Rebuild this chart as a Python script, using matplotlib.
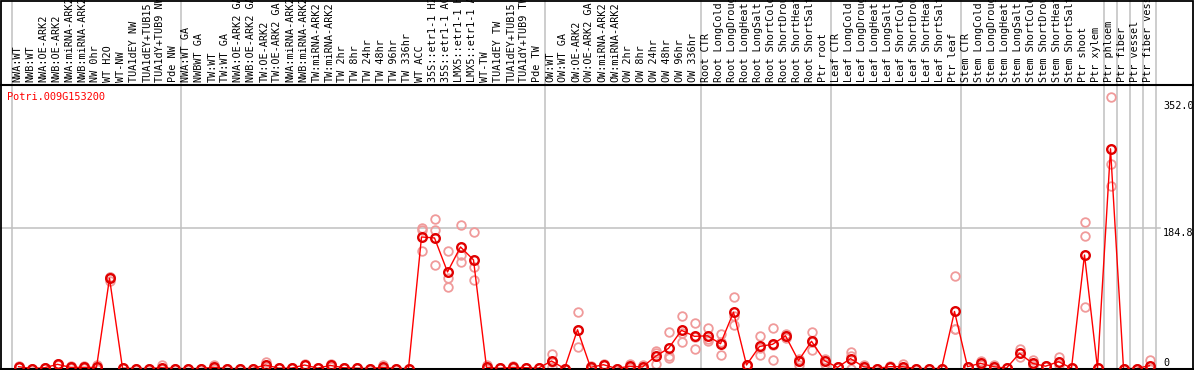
import matplotlib
matplotlib.use("Agg")
import matplotlib.pyplot as plt
from matplotlib.patches import Rectangle
from matplotlib.lines import Line2D
import numpy as np

gene = "Potri.009G153200"

labels = [
    "NWA:WT", "NWB:WT", "NWA:OE-ARK2", "NWB:OE-ARK2", "NWA:miRNA-ARK2", "NWB:miRNA-ARK2",
    "NW 0hr", "WT H2O", "WT-NW", "TUA1dEY NW", "TUA1dEY+TUB15", "TUA1dY+TUB9 NW", "Pde NW",
    "NWA:WT GA", "NWBWT GA", "TW:WT", "TW:WT GA", "NWA:OE-ARK2 GA", "NWB:OE-ARK2 GA",
    "TW:OE-ARK2", "TW:OE-ARK2 GA", "NWA:miRNA-ARK2", "NWB:miRNA-ARK2", "TW:miRNA-ARK2",
    "TW:miRNA-ARK2", "TW 2hr", "TW 8hr", "TW 24hr", "TW 48hr", "TW 96hr", "TW 336hr",
    "WT ACC", "35S::etr1-1 H2O", "35S::etr1-1 ACC", "LMX5::etr1-1 H2O", "LMX5::etr1-1 ACC",
    "WT-TW", "TUA1dEY TW", "TUA1dEY+TUB15", "TUA1dY+TUB9 TW", "Pde TW",
    "OW:WT", "OW:WT GA", "OW:OE-ARK2", "OW:OE-ARK2 GA", "OW:miRNA-ARK2", "OW:miRNA-ARK2",
    "OW 2hr", "OW 8hr", "OW 24hr", "OW 48hr", "OW 96hr", "OW 336hr",
    "Root CTR", "Root LongCold", "Root LongDrought", "Root LongHeat", "Root LongSalt",
    "Root ShortCold", "Root ShortDrought", "Root ShortHeat", "Root ShortSalt", "Ptr root",
    "Leaf CTR", "Leaf LongCold", "Leaf LongDrought", "Leaf LongHeat", "Leaf LongSalt",
    "Leaf ShortCold", "Leaf ShortDrought", "Leaf ShortHeat", "Leaf ShortSalt", "Ptr leaf",
    "Stem CTR", "Stem LongCold", "Stem LongDrought", "Stem LongHeat", "Stem LongSalt",
    "Stem ShortCold", "Stem ShortDrought", "Stem ShortHeat", "Stem ShortSalt", "Ptr shoot",
    "Ptr xylem", "Ptr phloem", "Ptr fiber", "Ptr vessel", "Ptr fiber vessel",
]

means = [
    2.4, 0, 1, 5.5, 1.5, 1.5, 1.5, 118.7, 0.5, 0, 0, 1, 0,
    0, 0, 1.5, 0, 0, 0, 4.6, 0.5, 0.5, 4.6, 0.5, 4, 1, 0.5, 0, 1.5, 0, 0,
    173, 171.7, 127, 159.9, 142.8, 1.5, 0.3, 1.5, 1, 0.5,
    9.9, 0, 51, 1.5, 5, 0, 3, 2, 16, 26.5, 50.2, 42.3,
    43, 32.6, 74, 4.6, 29, 31.8, 43, 10.3, 35.8, 10.3,
    1.5, 13, 2.4, 0, 2.4, 2.4, 0, 0, 0, 75,
    2.4, 6.8, 2.4, 0.5, 20, 6.8, 3, 9, 0.5, 149.3,
    0.3, 289, 0, 0, 3.7,
]

rep1 = [
    3, 0, 1, 6, 3, 3, 5, 121, 0.5, 0, 0, 4, 0,
    0, 0, 4, 0, 0, 0, 8, 0.5, 0.5, 6, 0.5, 6, 1, 0.5, 0, 4, 0, 0,
    185, 196.7, 154.6, 188.8, 179.6, 4, 0.3, 3, 1, 0.5,
    19, 0, 74, 3.5, 6, 0, 6, 5, 23.4, 47.6, 68.6, 59.4,
    52.8, 45, 93.7, 5, 42.3, 52.8, 46, 12, 48.5, 12,
    1.5, 22, 5, 0, 3, 6, 0, 0, 0, 121.6,
    2.4, 10, 5, 0.5, 25, 11, 3, 15.6, 0.5, 192.3,
    0.3, 356.6, 0, 0, 11,
]

rep2 = [
    2.4, 0, 1, 5.5, 1, 1, 0, 120, 0.5, 0, 0, 0, 0,
    0, 0, 0.5, 0, 0, 0, 4, 0.5, 0.5, 4, 0.5, 4, 1, 0.5, 0, 0.5, 0, 0,
    182, 181.8, 118.6, 149, 133, 0.5, 0.3, 1, 1, 0.5,
    8, 0, 51, 1, 5, 0, 2, 1, 20, 16.4, 47, 42,
    38.4, 35, 69.5, 4.6, 27, 31.4, 43, 10, 35, 10,
    1.5, 16, 2, 0, 2, 1, 0, 0, 0, 52,
    2.4, 6, 2, 0.5, 20, 6, 3, 8, 0.5, 174,
    0.3, 269.5, 0, 0, 0,
]

rep3 = [
    2, 0, 1, 5, 0.5, 0.5, 0, 115, 0.5, 0, 0, 0, 0,
    0, 0, 0, 0, 0, 0, 2, 0.5, 0.5, 4, 0.5, 2, 1, 0.5, 0, 0, 0, 0,
    154, 136, 107, 139.7, 116.4, 0, 0.3, 0.5, 1, 0.5,
    2, 0, 28, 0, 4, 0, 1, 0, 6, 13.8, 34.8, 25.2,
    36, 17.7, 57, 4, 17.7, 11.2, 40, 5, 24.3, 6,
    1.5, 0, 0, 0, 2, 0, 0, 0, 0, 51.5,
    2.4, 4, 0, 0.5, 15, 3, 3, 4, 0.5, 80.5,
    0.3, 240, 0, 0, 0,
]

separators = [-0.5, 12.5, 40.5, 52.5, 62.5, 72.5, 83.5, 84.5, 85.5, 86.5, 87.5]
ytick_vals = [352.0, 184.8, 0]

# ---- layout (pixels) ----
W, H = 1194, 370
x0_px, step_px = 18.5, 13.0          # centre of first column, column pitch
base_px, header_px = 368.5, 85.0     # y=0 line, header separator
px_per_unit = 0.7603

fig = plt.figure(figsize=(W / 100, H / 100), dpi=100)
fig.patch.set_facecolor("white")

xlim = (-x0_px / step_px, (W - x0_px) / step_px)

ax = fig.add_axes([0, (H - base_px) / H, 1, (base_px - header_px) / H])
ax.set_xlim(*xlim)
ax.set_ylim(0, (base_px - header_px) / px_per_unit)
ax.axis("off")

hax = fig.add_axes([0, (H - header_px) / H, 1, header_px / H])
hax.set_xlim(*xlim)
hax.set_ylim(0, 1)
hax.axis("off")

grey = "#c0c0c0"
for s in separators:
    ax.axvline(s, color=grey, lw=1.1, zorder=1)
    hax.axvline(s, color=grey, lw=1.1, zorder=1)

ax.axhline(184.8, xmin=0, xmax=1160 / W, color=grey, lw=1.1, zorder=1)
ax.axhline(0, color="black", lw=2.2, zorder=5, clip_on=False)

x = np.arange(len(labels))
mono = "DejaVu Sans Mono"

for i, lab in enumerate(labels):
    hax.text(x[i] - 0.08, 2.5 / header_px, lab, rotation=90, ha="center", va="bottom",
             fontsize=7.3, family=mono, color="black", clip_on=True)

rep_color = "#f09a9a"
for reps in (rep1, rep2, rep3):
    ax.plot(x, reps, ls="none", marker="o", ms=6.2, mfc="none", mec=rep_color,
            mew=1.3, zorder=3, clip_on=False)

ax.plot(x, means, color="#ff0000", lw=1.0, zorder=4, clip_on=False)
ax.plot(x, means, ls="none", marker="o", ms=6.2, mfc="none", mec="#e00000",
        mew=1.7, zorder=6, clip_on=False)

# y scale labels
ytrans = ax.get_yaxis_transform()
for v in ytick_vals:
    va = "bottom" if v == 0 else "top"
    txt = "0" if v == 0 else f"{v:.1f}"
    ax.text(1163 / W, v, txt, transform=ytrans, ha="left", va=va,
            fontsize=7.3, family=mono, color="black")

fig.text(7 / W, 1 - 97 / H, gene, ha="left", va="center", fontsize=7.4,
         family=mono, color="#ff0000")

# borders
fig.add_artist(Line2D([0, 1], [1 - header_px / H] * 2, transform=fig.transFigure,
                      color="black", lw=1.5))
fig.add_artist(Rectangle((0.5 / W, 0), 1 - 1.5 / W, 1 - 0.5 / H, transform=fig.transFigure,
                         fill=False, ec="black", lw=1.3))

fig.savefig("out.png", dpi=100)
